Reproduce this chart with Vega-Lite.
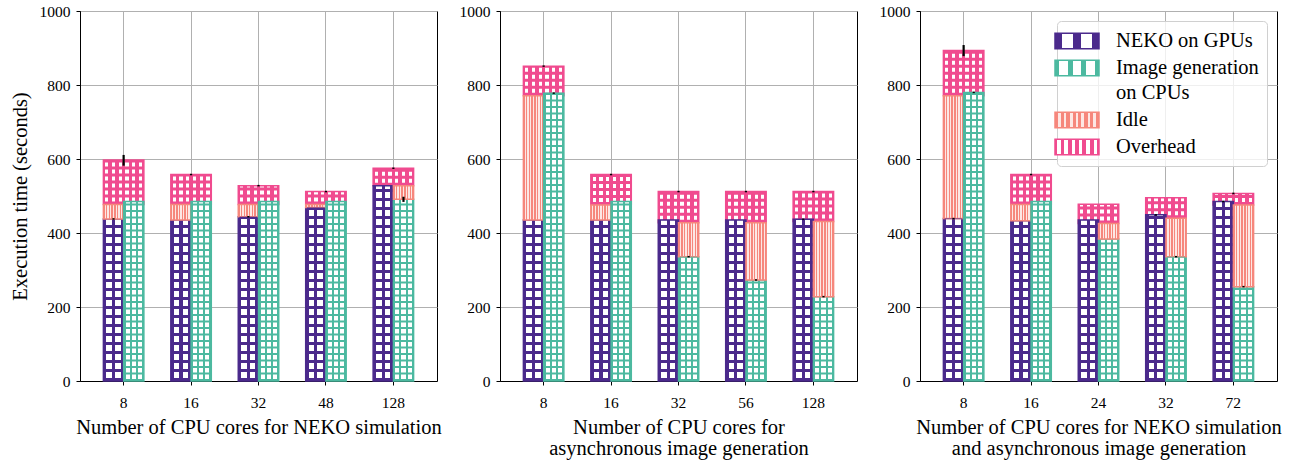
{
  "$schema": "https://vega.github.io/schema/vega-lite/v6.json",
  "padding": {"left": 9, "top": 3, "right": 0, "bottom": 0},
  "bounds": "flush",
  "spacing": 63,
  "datasets": {
    "segments": [
      {"panel": 1, "cores": "8", "part": "NEKO on GPUs", "side": "GPU", "start": 0, "end": 438},
      {"panel": 1, "cores": "8", "part": "Idle", "side": "GPU", "start": 438, "end": 477},
      {"panel": 1, "cores": "8", "part": "Image generation on CPUs", "side": "CPU", "start": 0, "end": 485},
      {"panel": 1, "cores": "8", "part": "Overhead", "side": "both", "start": 477, "end": 597},
      {"panel": 1, "cores": "16", "part": "NEKO on GPUs", "side": "GPU", "start": 0, "end": 435},
      {"panel": 1, "cores": "16", "part": "Idle", "side": "GPU", "start": 435, "end": 477},
      {"panel": 1, "cores": "16", "part": "Image generation on CPUs", "side": "CPU", "start": 0, "end": 485},
      {"panel": 1, "cores": "16", "part": "Overhead", "side": "both", "start": 477, "end": 558},
      {"panel": 1, "cores": "32", "part": "NEKO on GPUs", "side": "GPU", "start": 0, "end": 444},
      {"panel": 1, "cores": "32", "part": "Idle", "side": "GPU", "start": 444, "end": 477},
      {"panel": 1, "cores": "32", "part": "Image generation on CPUs", "side": "CPU", "start": 0, "end": 485},
      {"panel": 1, "cores": "32", "part": "Overhead", "side": "both", "start": 477, "end": 528},
      {"panel": 1, "cores": "48", "part": "NEKO on GPUs", "side": "GPU", "start": 0, "end": 469},
      {"panel": 1, "cores": "48", "part": "Idle", "side": "GPU", "start": 469, "end": 477},
      {"panel": 1, "cores": "48", "part": "Image generation on CPUs", "side": "CPU", "start": 0, "end": 485},
      {"panel": 1, "cores": "48", "part": "Overhead", "side": "both", "start": 477, "end": 512},
      {"panel": 1, "cores": "128", "part": "NEKO on GPUs", "side": "GPU", "start": 0, "end": 528},
      {"panel": 1, "cores": "128", "part": "Image generation on CPUs", "side": "CPU", "start": 0, "end": 491},
      {"panel": 1, "cores": "128", "part": "Idle", "side": "CPU", "start": 491, "end": 528},
      {"panel": 1, "cores": "128", "part": "Overhead", "side": "both", "start": 528, "end": 575},

      {"panel": 2, "cores": "8", "part": "NEKO on GPUs", "side": "GPU", "start": 0, "end": 435},
      {"panel": 2, "cores": "8", "part": "Idle", "side": "GPU", "start": 435, "end": 771},
      {"panel": 2, "cores": "8", "part": "Image generation on CPUs", "side": "CPU", "start": 0, "end": 778},
      {"panel": 2, "cores": "8", "part": "Overhead", "side": "both", "start": 771, "end": 851},
      {"panel": 2, "cores": "16", "part": "NEKO on GPUs", "side": "GPU", "start": 0, "end": 435},
      {"panel": 2, "cores": "16", "part": "Idle", "side": "GPU", "start": 435, "end": 476},
      {"panel": 2, "cores": "16", "part": "Image generation on CPUs", "side": "CPU", "start": 0, "end": 485},
      {"panel": 2, "cores": "16", "part": "Overhead", "side": "both", "start": 476, "end": 558},
      {"panel": 2, "cores": "32", "part": "NEKO on GPUs", "side": "GPU", "start": 0, "end": 435},
      {"panel": 2, "cores": "32", "part": "Image generation on CPUs", "side": "CPU", "start": 0, "end": 336},
      {"panel": 2, "cores": "32", "part": "Idle", "side": "CPU", "start": 336, "end": 428},
      {"panel": 2, "cores": "32", "part": "Overhead", "side": "both", "start": 428, "end": 512},
      {"panel": 2, "cores": "56", "part": "NEKO on GPUs", "side": "GPU", "start": 0, "end": 435},
      {"panel": 2, "cores": "56", "part": "Image generation on CPUs", "side": "CPU", "start": 0, "end": 273},
      {"panel": 2, "cores": "56", "part": "Idle", "side": "CPU", "start": 273, "end": 428},
      {"panel": 2, "cores": "56", "part": "Overhead", "side": "both", "start": 428, "end": 512},
      {"panel": 2, "cores": "128", "part": "NEKO on GPUs", "side": "GPU", "start": 0, "end": 437},
      {"panel": 2, "cores": "128", "part": "Image generation on CPUs", "side": "CPU", "start": 0, "end": 228},
      {"panel": 2, "cores": "128", "part": "Idle", "side": "CPU", "start": 228, "end": 431},
      {"panel": 2, "cores": "128", "part": "Overhead", "side": "both", "start": 431, "end": 512},

      {"panel": 3, "cores": "8", "part": "NEKO on GPUs", "side": "GPU", "start": 0, "end": 439},
      {"panel": 3, "cores": "8", "part": "Idle", "side": "GPU", "start": 439, "end": 771},
      {"panel": 3, "cores": "8", "part": "Image generation on CPUs", "side": "CPU", "start": 0, "end": 780},
      {"panel": 3, "cores": "8", "part": "Overhead", "side": "both", "start": 771, "end": 893},
      {"panel": 3, "cores": "16", "part": "NEKO on GPUs", "side": "GPU", "start": 0, "end": 433},
      {"panel": 3, "cores": "16", "part": "Idle", "side": "GPU", "start": 433, "end": 477},
      {"panel": 3, "cores": "16", "part": "Image generation on CPUs", "side": "CPU", "start": 0, "end": 485},
      {"panel": 3, "cores": "16", "part": "Overhead", "side": "both", "start": 477, "end": 558},
      {"panel": 3, "cores": "24", "part": "NEKO on GPUs", "side": "GPU", "start": 0, "end": 435},
      {"panel": 3, "cores": "24", "part": "Image generation on CPUs", "side": "CPU", "start": 0, "end": 384},
      {"panel": 3, "cores": "24", "part": "Idle", "side": "CPU", "start": 384, "end": 426},
      {"panel": 3, "cores": "24", "part": "Overhead", "side": "both", "start": 426, "end": 478},
      {"panel": 3, "cores": "32", "part": "NEKO on GPUs", "side": "GPU", "start": 0, "end": 449},
      {"panel": 3, "cores": "32", "part": "Image generation on CPUs", "side": "CPU", "start": 0, "end": 336},
      {"panel": 3, "cores": "32", "part": "Idle", "side": "CPU", "start": 336, "end": 440},
      {"panel": 3, "cores": "32", "part": "Overhead", "side": "both", "start": 440, "end": 495},
      {"panel": 3, "cores": "72", "part": "NEKO on GPUs", "side": "GPU", "start": 0, "end": 485},
      {"panel": 3, "cores": "72", "part": "Image generation on CPUs", "side": "CPU", "start": 0, "end": 255},
      {"panel": 3, "cores": "72", "part": "Idle", "side": "CPU", "start": 255, "end": 476},
      {"panel": 3, "cores": "72", "part": "Overhead", "side": "both", "start": 476, "end": 507}
    ],
    "errors": [
      {"panel": 1, "cores": "8", "side": "both", "start": 582, "end": 611},
      {"panel": 1, "cores": "8", "side": "GPU", "start": 436, "end": 440},
      {"panel": 1, "cores": "16", "side": "both", "start": 556, "end": 560},
      {"panel": 1, "cores": "32", "side": "both", "start": 526, "end": 530},
      {"panel": 1, "cores": "32", "side": "GPU", "start": 442, "end": 446},
      {"panel": 1, "cores": "48", "side": "both", "start": 510, "end": 514},
      {"panel": 1, "cores": "128", "side": "CPU", "start": 484, "end": 498},
      {"panel": 1, "cores": "128", "side": "both", "start": 573, "end": 577},
      {"panel": 2, "cores": "8", "side": "both", "start": 849, "end": 853},
      {"panel": 2, "cores": "8", "side": "CPU", "start": 776, "end": 780},
      {"panel": 2, "cores": "16", "side": "both", "start": 556, "end": 560},
      {"panel": 2, "cores": "32", "side": "both", "start": 510, "end": 514},
      {"panel": 2, "cores": "32", "side": "CPU", "start": 334, "end": 338},
      {"panel": 2, "cores": "56", "side": "both", "start": 510, "end": 514},
      {"panel": 2, "cores": "56", "side": "CPU", "start": 271, "end": 275},
      {"panel": 2, "cores": "128", "side": "both", "start": 510, "end": 514},
      {"panel": 2, "cores": "128", "side": "GPU", "start": 435, "end": 439},
      {"panel": 2, "cores": "128", "side": "CPU", "start": 226, "end": 230},
      {"panel": 3, "cores": "8", "side": "both", "start": 878, "end": 908},
      {"panel": 3, "cores": "8", "side": "GPU", "start": 437, "end": 441},
      {"panel": 3, "cores": "8", "side": "CPU", "start": 778, "end": 782},
      {"panel": 3, "cores": "16", "side": "both", "start": 556, "end": 560},
      {"panel": 3, "cores": "32", "side": "GPU", "start": 447, "end": 451},
      {"panel": 3, "cores": "32", "side": "CPU", "start": 334, "end": 338},
      {"panel": 3, "cores": "72", "side": "both", "start": 505, "end": 509},
      {"panel": 3, "cores": "72", "side": "GPU", "start": 483, "end": 487},
      {"panel": 3, "cores": "72", "side": "CPU", "start": 253, "end": 257}
    ]
  },
  "resolve": {"legend": {"fill": "independent", "stroke": "independent"}},
  "hconcat": [
    {
      "width": 357, "height": 370,
      "data": {"name": "segments"},
      "transform": [{"filter": "datum.panel == 1"}],
      "encoding": {
        "x": {"field": "cores", "type": "nominal", "sort": ["8", "16", "32", "48", "128"],
              "scale": {"paddingInner": 0.4, "paddingOuter": 0.347},
              "axis": {"title": "Number of CPU cores for NEKO simulation", "bandPosition": 0.5, "grid": true}},
        "y": {"field": "start", "type": "quantitative", "scale": {"domain": [0, 1000], "nice": false},
              "axis": {"title": "Execution time (seconds)", "values": [0, 200, 400, 600, 800, 1000], "format": "d", "grid": true}},
        "y2": {"field": "end"}
      },
      "layer": [
        {
          "transform": [{"filter": "datum.part == 'Overhead'"}],
          "mark": {"type": "bar", "strokeWidth": 1.5},
          "encoding": {
            "fill": {"field": "part", "type": "nominal", "legend": null,
                     "scale": {"domain": ["NEKO on GPUs", "Image generation on CPUs", "Idle", "Overhead"],
                               "range": [
                                 {"expr": "{gradient:'linear',x1:0,y1:0,x2:1,y2:0,stops:[{offset:0,color:'#4b2a8c'},{offset:0.15,color:'#4b2a8c'},{offset:0.15,color:'#ffffff'},{offset:0.42,color:'#ffffff'},{offset:0.42,color:'#4b2a8c'},{offset:0.58,color:'#4b2a8c'},{offset:0.58,color:'#ffffff'},{offset:0.85,color:'#ffffff'},{offset:0.85,color:'#4b2a8c'},{offset:1,color:'#4b2a8c'}]}"},
                                 {"expr": "{gradient:'linear',x1:0,y1:0,x2:1,y2:0,stops:[{offset:0,color:'#4cb9a0'},{offset:0.1,color:'#4cb9a0'},{offset:0.1,color:'#ffffff'},{offset:0.3,color:'#ffffff'},{offset:0.3,color:'#4cb9a0'},{offset:0.4,color:'#4cb9a0'},{offset:0.4,color:'#ffffff'},{offset:0.6,color:'#ffffff'},{offset:0.6,color:'#4cb9a0'},{offset:0.7,color:'#4cb9a0'},{offset:0.7,color:'#ffffff'},{offset:0.9,color:'#ffffff'},{offset:0.9,color:'#4cb9a0'},{offset:1,color:'#4cb9a0'}]}"},
                                 {"expr": "{gradient:'linear',x1:0,y1:0,x2:1,y2:0,stops:[{offset:0,color:'#f6877c'},{offset:0.07,color:'#f6877c'},{offset:0.07,color:'#fde7e4'},{offset:0.13,color:'#fde7e4'},{offset:0.13,color:'#f6877c'},{offset:0.2,color:'#f6877c'},{offset:0.2,color:'#fde7e4'},{offset:0.26,color:'#fde7e4'},{offset:0.26,color:'#f6877c'},{offset:0.34,color:'#f6877c'},{offset:0.34,color:'#fde7e4'},{offset:0.4,color:'#fde7e4'},{offset:0.4,color:'#f6877c'},{offset:0.47,color:'#f6877c'},{offset:0.47,color:'#fde7e4'},{offset:0.53,color:'#fde7e4'},{offset:0.53,color:'#f6877c'},{offset:0.6,color:'#f6877c'},{offset:0.6,color:'#fde7e4'},{offset:0.66,color:'#fde7e4'},{offset:0.66,color:'#f6877c'},{offset:0.74,color:'#f6877c'},{offset:0.74,color:'#fde7e4'},{offset:0.8,color:'#fde7e4'},{offset:0.8,color:'#f6877c'},{offset:0.87,color:'#f6877c'},{offset:0.87,color:'#fde7e4'},{offset:0.93,color:'#fde7e4'},{offset:0.93,color:'#f6877c'},{offset:1,color:'#f6877c'}]}"},
                                 {"expr": "{gradient:'linear',x1:0,y1:0,x2:1,y2:0,stops:[{offset:0,color:'#f04b8f'},{offset:0.045,color:'#f04b8f'},{offset:0.045,color:'#ffffff'},{offset:0.125,color:'#ffffff'},{offset:0.125,color:'#f04b8f'},{offset:0.212,color:'#f04b8f'},{offset:0.212,color:'#ffffff'},{offset:0.292,color:'#ffffff'},{offset:0.292,color:'#f04b8f'},{offset:0.378,color:'#f04b8f'},{offset:0.378,color:'#ffffff'},{offset:0.458,color:'#ffffff'},{offset:0.458,color:'#f04b8f'},{offset:0.545,color:'#f04b8f'},{offset:0.545,color:'#ffffff'},{offset:0.625,color:'#ffffff'},{offset:0.625,color:'#f04b8f'},{offset:0.712,color:'#f04b8f'},{offset:0.712,color:'#ffffff'},{offset:0.792,color:'#ffffff'},{offset:0.792,color:'#f04b8f'},{offset:0.878,color:'#f04b8f'},{offset:0.878,color:'#ffffff'},{offset:0.958,color:'#ffffff'},{offset:0.958,color:'#f04b8f'},{offset:1,color:'#f04b8f'}]}"}
                               ]}},
            "stroke": {"field": "part", "type": "nominal", "legend": null,
                       "scale": {"domain": ["NEKO on GPUs", "Image generation on CPUs", "Idle", "Overhead"],
                                 "range": ["#4b2a8c", "#4cb9a0", "#f6877c", "#f04b8f"]}}
          }
        },
        {
          "transform": [{"filter": "datum.part == 'Overhead'"}],
          "mark": {"type": "rule", "stroke": "#f04b8f", "strokeWidth": 38, "strokeDash": [3, 4]},
          "encoding": {}
        },
        {
          "transform": [{"filter": "datum.side != 'both'"}],
          "mark": {"type": "bar", "strokeWidth": 1.5},
          "encoding": {
            "xOffset": {"field": "side", "type": "nominal", "scale": {"domain": ["GPU", "CPU"], "paddingInner": 0, "paddingOuter": 0}},
            "fill": {"field": "part", "type": "nominal", "legend": null},
            "stroke": {"field": "part", "type": "nominal", "legend": null}
          }
        },
        {
          "transform": [{"filter": "datum.side != 'both' && datum.part != 'Idle'"}],
          "mark": {"type": "rule", "strokeWidth": 18},
          "encoding": {
            "xOffset": {"field": "side", "type": "nominal"},
            "stroke": {"condition": {"test": "datum.part == 'NEKO on GPUs'", "value": "#4b2a8c"}, "value": "#4cb9a0"},
            "strokeDash": {"condition": {"test": "datum.part == 'NEKO on GPUs'", "value": [3, 6]}, "value": [2, 4.5]}
          }
        },
        {
          "data": {"name": "errors"},
          "transform": [{"filter": "datum.panel == 1 && datum.side == 'both'"}],
          "mark": {"type": "rule", "stroke": "black", "strokeWidth": 2.2},
          "encoding": {}
        },
        {
          "data": {"name": "errors"},
          "transform": [{"filter": "datum.panel == 1 && datum.side != 'both'"}],
          "mark": {"type": "rule", "stroke": "black", "strokeWidth": 2.2},
          "encoding": {"xOffset": {"field": "side", "type": "nominal"}}
        }
      ]
    },
    {
      "width": 357, "height": 370,
      "data": {"name": "segments"},
      "transform": [{"filter": "datum.panel == 2"}],
      "encoding": {
        "x": {"field": "cores", "type": "nominal", "sort": ["8", "16", "32", "56", "128"],
              "scale": {"paddingInner": 0.4, "paddingOuter": 0.347},
              "axis": {"title": ["Number of CPU cores for", "asynchronous image generation"], "bandPosition": 0.5, "grid": true}},
        "y": {"field": "start", "type": "quantitative", "scale": {"domain": [0, 1000], "nice": false},
              "axis": {"title": null, "values": [0, 200, 400, 600, 800, 1000], "format": "d", "grid": true}},
        "y2": {"field": "end"}
      },
      "layer": [
        {
          "transform": [{"filter": "datum.part == 'Overhead'"}],
          "mark": {"type": "bar", "strokeWidth": 1.5},
          "encoding": {
            "fill": {"field": "part", "type": "nominal", "legend": null},
            "stroke": {"field": "part", "type": "nominal", "legend": null}
          }
        },
        {
          "transform": [{"filter": "datum.part == 'Overhead'"}],
          "mark": {"type": "rule", "stroke": "#f04b8f", "strokeWidth": 38, "strokeDash": [3, 4]},
          "encoding": {}
        },
        {
          "transform": [{"filter": "datum.side != 'both'"}],
          "mark": {"type": "bar", "strokeWidth": 1.5},
          "encoding": {
            "xOffset": {"field": "side", "type": "nominal", "scale": {"domain": ["GPU", "CPU"], "paddingInner": 0, "paddingOuter": 0}},
            "fill": {"field": "part", "type": "nominal", "legend": null},
            "stroke": {"field": "part", "type": "nominal", "legend": null}
          }
        },
        {
          "transform": [{"filter": "datum.side != 'both' && datum.part != 'Idle'"}],
          "mark": {"type": "rule", "strokeWidth": 18},
          "encoding": {
            "xOffset": {"field": "side", "type": "nominal"},
            "stroke": {"condition": {"test": "datum.part == 'NEKO on GPUs'", "value": "#4b2a8c"}, "value": "#4cb9a0"},
            "strokeDash": {"condition": {"test": "datum.part == 'NEKO on GPUs'", "value": [3, 6]}, "value": [2, 4.5]}
          }
        },
        {
          "data": {"name": "errors"},
          "transform": [{"filter": "datum.panel == 2 && datum.side == 'both'"}],
          "mark": {"type": "rule", "stroke": "black", "strokeWidth": 2.2},
          "encoding": {}
        },
        {
          "data": {"name": "errors"},
          "transform": [{"filter": "datum.panel == 2 && datum.side != 'both'"}],
          "mark": {"type": "rule", "stroke": "black", "strokeWidth": 2.2},
          "encoding": {"xOffset": {"field": "side", "type": "nominal"}}
        }
      ]
    },
    {
      "width": 357, "height": 370,
      "data": {"name": "segments"},
      "transform": [{"filter": "datum.panel == 3"}],
      "encoding": {
        "x": {"field": "cores", "type": "nominal", "sort": ["8", "16", "24", "32", "72"],
              "scale": {"paddingInner": 0.4, "paddingOuter": 0.347},
              "axis": {"title": ["Number of CPU cores for NEKO simulation", "and asynchronous image generation"], "bandPosition": 0.5, "grid": true}},
        "y": {"field": "start", "type": "quantitative", "scale": {"domain": [0, 1000], "nice": false},
              "axis": {"title": null, "values": [0, 200, 400, 600, 800, 1000], "format": "d", "grid": true}},
        "y2": {"field": "end"}
      },
      "layer": [
        {
          "transform": [{"filter": "datum.part == 'Overhead'"}],
          "mark": {"type": "bar", "strokeWidth": 1.5},
          "encoding": {
            "fill": {"field": "part", "type": "nominal",
                     "legend": {"title": null, "orient": "top-right", "offset": 10, "padding": 8,
                                "fillColor": "rgba(255,255,255,0.8)", "strokeColor": "#d0d0d0", "cornerRadius": 4,
                                "symbolType": "M-2,-0.7H2V0.7H-2Z", "symbolSize": 484, "symbolStrokeWidth": 1.5,
                                "labelFont": "Liberation Serif", "labelFontSize": 20.5, "labelColor": "black",
                                "labelOffset": 27, "labelLimit": 400, "rowPadding": 4,
                                "labelExpr": "datum.label == 'Image generation on CPUs' ? ['Image generation', 'on CPUs'] : datum.label",
                                "encode": {"labels": {"update": {"lineHeight": {"value": 25}}}}}},
            "stroke": {"field": "part", "type": "nominal",
                       "legend": {"title": null, "orient": "top-right", "offset": 10, "padding": 8,
                                  "fillColor": "rgba(255,255,255,0.8)", "strokeColor": "#d0d0d0", "cornerRadius": 4,
                                  "symbolType": "M-2,-0.7H2V0.7H-2Z", "symbolSize": 484, "symbolStrokeWidth": 1.5,
                                  "labelFont": "Liberation Serif", "labelFontSize": 20.5, "labelColor": "black",
                                  "labelOffset": 27, "labelLimit": 400, "rowPadding": 4,
                                  "labelExpr": "datum.label == 'Image generation on CPUs' ? ['Image generation', 'on CPUs'] : datum.label",
                                  "encode": {"labels": {"update": {"lineHeight": {"value": 25}}}}}}
          }
        },
        {
          "transform": [{"filter": "datum.part == 'Overhead'"}],
          "mark": {"type": "rule", "stroke": "#f04b8f", "strokeWidth": 38, "strokeDash": [3, 4]},
          "encoding": {}
        },
        {
          "transform": [{"filter": "datum.side != 'both'"}],
          "mark": {"type": "bar", "strokeWidth": 1.5},
          "encoding": {
            "xOffset": {"field": "side", "type": "nominal", "scale": {"domain": ["GPU", "CPU"], "paddingInner": 0, "paddingOuter": 0}},
            "fill": {"field": "part", "type": "nominal"},
            "stroke": {"field": "part", "type": "nominal"}
          }
        },
        {
          "transform": [{"filter": "datum.side != 'both' && datum.part != 'Idle'"}],
          "mark": {"type": "rule", "strokeWidth": 18},
          "encoding": {
            "xOffset": {"field": "side", "type": "nominal"},
            "stroke": {"condition": {"test": "datum.part == 'NEKO on GPUs'", "value": "#4b2a8c"}, "value": "#4cb9a0"},
            "strokeDash": {"condition": {"test": "datum.part == 'NEKO on GPUs'", "value": [3, 6]}, "value": [2, 4.5]}
          }
        },
        {
          "data": {"name": "errors"},
          "transform": [{"filter": "datum.panel == 3 && datum.side == 'both'"}],
          "mark": {"type": "rule", "stroke": "black", "strokeWidth": 2.2},
          "encoding": {}
        },
        {
          "data": {"name": "errors"},
          "transform": [{"filter": "datum.panel == 3 && datum.side != 'both'"}],
          "mark": {"type": "rule", "stroke": "black", "strokeWidth": 2.2},
          "encoding": {"xOffset": {"field": "side", "type": "nominal"}}
        }
      ]
    }
  ],
  "config": {
    "font": "Liberation Serif",
    "view": {"stroke": "black", "strokeWidth": 1},
    "axis": {
      "labelFont": "Liberation Serif", "labelFontSize": 15.5, "labelColor": "black",
      "titleFont": "Liberation Serif", "titleFontSize": 20.5, "titleFontWeight": "normal", "titleColor": "black",
      "domainColor": "black", "tickColor": "black", "tickSize": 4, "labelPadding": 6,
      "gridColor": "#b0b0b0", "gridWidth": 1, "gridOpacity": 1
    },
    "axisX": {"labelAngle": 0, "labelPadding": 10, "titlePadding": 7, "titleLineHeight": 21},
    "axisY": {"titlePadding": 9}
  }
}
